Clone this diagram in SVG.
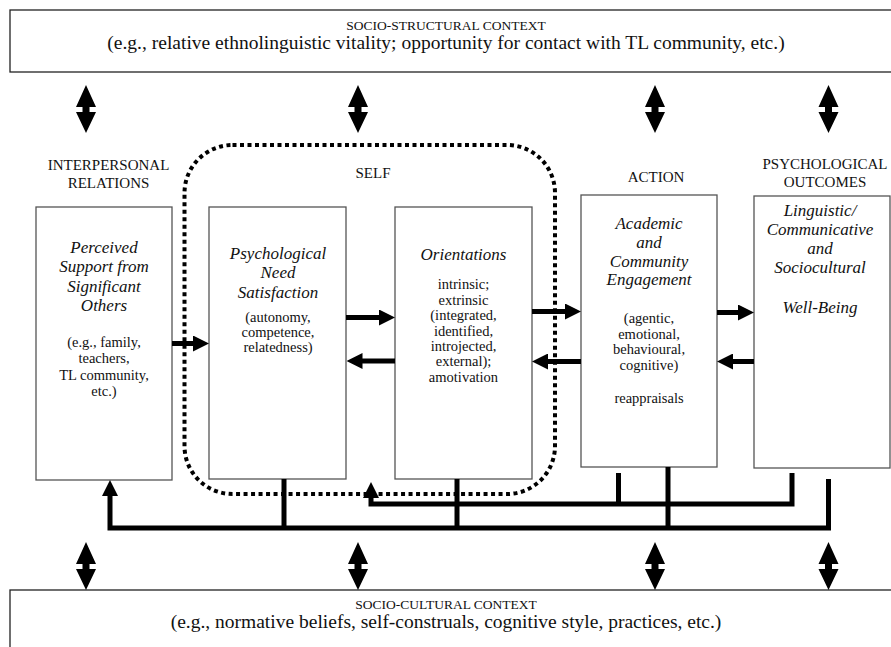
<svg xmlns="http://www.w3.org/2000/svg" width="891" height="647" viewBox="0 0 891 647">
<style>
  text { font-family: "Liberation Serif", "Times New Roman", serif; fill: #111; text-anchor: middle; }
  .ctx1 { font-size: 13.5px; }
  .ctx2 { font-size: 19.5px; }
  .hdr { font-size: 15px; }
  .it { font-size: 17px; font-style: italic; }
  .nm { font-size: 14.5px; }
  .box { fill: #fff; stroke: #555; stroke-width: 1.3; }
  .ctxbox { fill: #fff; stroke: #222; stroke-width: 1.3; }
  .conn { fill: none; stroke: #000; stroke-width: 5; stroke-linejoin: miter; stroke-linecap: butt; }
  .dots { fill: none; stroke: #000; stroke-width: 4; stroke-dasharray: 4 3.5; }
</style>
<defs>
  <marker id="ah" markerUnits="userSpaceOnUse" markerWidth="16" markerHeight="16" viewBox="0 0 16 16" refX="6" refY="8" orient="auto">
    <path d="M0,0 L16,8 L0,16 Z" fill="#000"/>
  </marker>
  <path id="dbl" d="M0,0 L10,22 L3.5,22 L3.5,27 L10,27 L0,48 L-10,27 L-3.5,27 L-3.5,22 L-10,22 Z" fill="#000"/>
</defs>

<g id="socio-structural">
  <rect class="ctxbox" x="10" y="10" width="890" height="62"/>
  <text class="ctx1" x="446" y="30">SOCIO-STRUCTURAL CONTEXT</text>
  <text class="ctx2" x="446" y="49">(e.g., relative ethnolinguistic vitality; opportunity for contact with TL community, etc.)</text>
</g>

<g id="socio-cultural">
  <rect class="ctxbox" x="10" y="590" width="890" height="70"/>
  <text class="ctx1" x="446" y="609">SOCIO-CULTURAL CONTEXT</text>
  <text class="ctx2" x="446" y="628">(e.g., normative beliefs, self-construals, cognitive style, practices, etc.)</text>
</g>

<g id="self-boundary">
  <rect class="dots" x="184.5" y="145" width="370.5" height="349" rx="48" ry="48"/>
  <text class="hdr" x="373" y="178">SELF</text>
</g>

<g id="interpersonal">
  <text class="hdr" x="108.5" y="170">INTERPERSONAL</text>
  <text class="hdr" x="108.5" y="188">RELATIONS</text>
  <rect class="box" x="36" y="207" width="136" height="273"/>
  <text class="it" x="104" y="253">Perceived</text>
  <text class="it" x="104" y="272">Support from</text>
  <text class="it" x="104" y="291.5">Significant</text>
  <text class="it" x="104" y="311">Others</text>
  <text class="nm" x="104" y="347">(e.g., family,</text>
  <text class="nm" x="104" y="363">teachers,</text>
  <text class="nm" x="104" y="380">TL community,</text>
  <text class="nm" x="104" y="396">etc.)</text>
</g>

<g id="need-satisfaction">
  <rect class="box" x="209" y="207" width="137" height="272"/>
  <text class="it" x="278" y="259">Psychological</text>
  <text class="it" x="278" y="278">Need</text>
  <text class="it" x="278" y="297.5">Satisfaction</text>
  <text class="nm" x="278" y="321.5">(autonomy,</text>
  <text class="nm" x="278" y="336.5">competence,</text>
  <text class="nm" x="278" y="351.5">relatedness)</text>
</g>

<g id="orientations">
  <rect class="box" x="395" y="207" width="137" height="272"/>
  <text class="it" x="463.5" y="260">Orientations</text>
  <text class="nm" x="463.5" y="289">intrinsic;</text>
  <text class="nm" x="463.5" y="304.5">extrinsic</text>
  <text class="nm" x="463.5" y="320">(integrated,</text>
  <text class="nm" x="463.5" y="335.5">identified,</text>
  <text class="nm" x="463.5" y="351">introjected,</text>
  <text class="nm" x="463.5" y="366">external);</text>
  <text class="nm" x="463.5" y="381.5">amotivation</text>
</g>

<g id="action">
  <text class="hdr" x="656" y="182">ACTION</text>
  <rect class="box" x="581" y="195" width="136" height="272"/>
  <text class="it" x="649" y="229">Academic</text>
  <text class="it" x="649" y="248">and</text>
  <text class="it" x="649" y="266.5">Community</text>
  <text class="it" x="649" y="285">Engagement</text>
  <text class="nm" x="649" y="323">(agentic,</text>
  <text class="nm" x="649" y="338.5">emotional,</text>
  <text class="nm" x="649" y="354">behavioural,</text>
  <text class="nm" x="649" y="370">cognitive)</text>
  <text class="nm" x="649" y="402.5">reappraisals</text>
</g>

<g id="outcomes">
  <text class="hdr" x="825" y="169">PSYCHOLOGICAL</text>
  <text class="hdr" x="825" y="187">OUTCOMES</text>
  <rect class="box" x="754" y="196" width="136" height="272"/>
  <text class="it" x="820" y="216">Linguistic/</text>
  <text class="it" x="820" y="235">Communicative</text>
  <text class="it" x="820" y="254">and</text>
  <text class="it" x="820" y="273">Sociocultural</text>
  <text class="it" x="820" y="313">Well-Being</text>
</g>

<g id="connectors">
  <!-- horizontal arrows -->
  <path class="conn" d="M172,343.5 L199,343.5" marker-end="url(#ah)"/>
  <path class="conn" d="M346,317.5 L385,317.5" marker-end="url(#ah)"/>
  <path class="conn" d="M395,361 L356.5,361" marker-end="url(#ah)"/>
  <path class="conn" d="M532,311.5 L571,311.5" marker-end="url(#ah)"/>
  <path class="conn" d="M581,361.5 L542,361.5" marker-end="url(#ah)"/>
  <path class="conn" d="M717,312.5 L744,312.5" marker-end="url(#ah)"/>
  <path class="conn" d="M754,361.5 L727,361.5" marker-end="url(#ah)"/>
  <!-- feedback lines -->
  <path class="conn" d="M828.5,479 L828.5,528 L110,528 L110,490" marker-end="url(#ah)"/>
  <path class="conn" d="M792,473 L792,504 L371,504 L371,492" marker-end="url(#ah)"/>
  <path class="conn" d="M618.5,473 L618.5,504"/>
  <path class="conn" d="M284,479 L284,528"/>
  <path class="conn" d="M457,479 L457,528"/>
  <path class="conn" d="M668,467 L668,528"/>
  <!-- context double arrows -->
  <use href="#dbl" x="86" y="85"/>
  <use href="#dbl" x="358" y="85"/>
  <use href="#dbl" x="655" y="85"/>
  <use href="#dbl" x="828.5" y="85"/>
  <use href="#dbl" x="86" y="542"/>
  <use href="#dbl" x="358" y="542"/>
  <use href="#dbl" x="655" y="542"/>
  <use href="#dbl" x="828.5" y="542"/>
</g>
</svg>
